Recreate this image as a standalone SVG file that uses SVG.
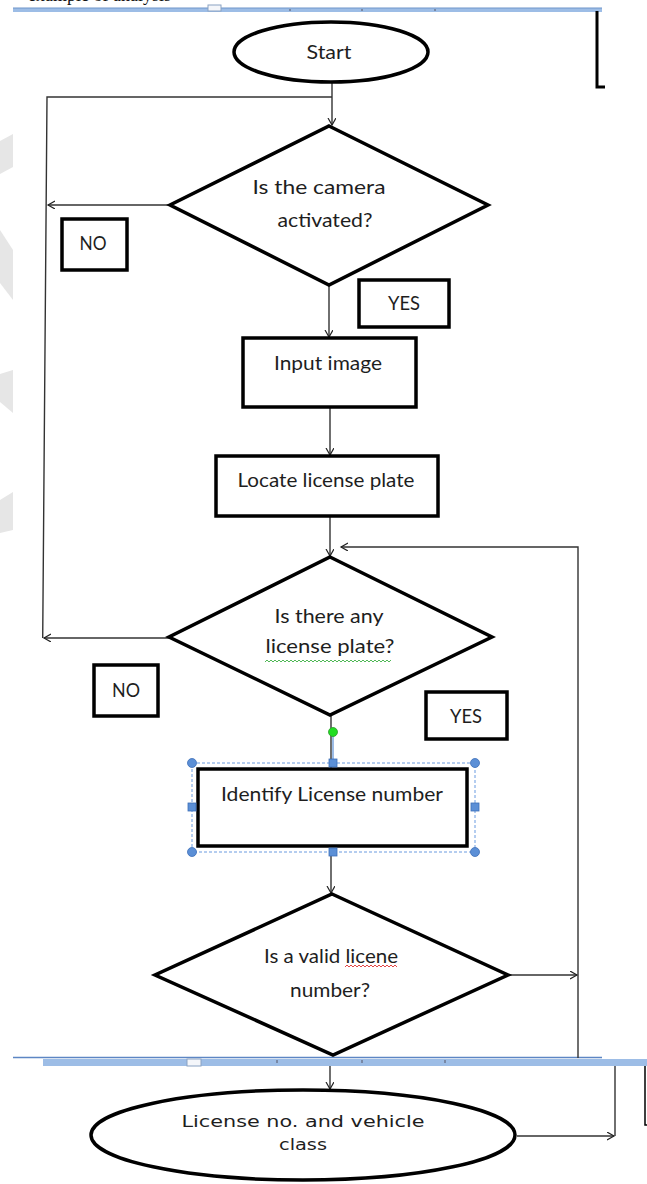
<svg xmlns="http://www.w3.org/2000/svg" width="647" height="1184" viewBox="0 0 647 1184">
  <defs>
    <marker id="arrow" markerUnits="userSpaceOnUse" markerWidth="10" markerHeight="10" refX="7" refY="4" orient="auto">
      <path d="M0,0 L7,4 L0,8" fill="none" stroke="#222" stroke-width="1.2"/>
    </marker>
    <style>
      .shape{fill:#fff;stroke:#000;stroke-width:3.5;stroke-linejoin:miter}
      .box{fill:#fff;stroke:#000;stroke-width:3.5}
      .lbl{font-family:Lato,"Liberation Sans",sans-serif;font-size:20px;fill:#1e1e1e;text-anchor:middle}
      .lbl2{font-family:"DejaVu Sans","Liberation Sans",sans-serif;font-size:15px;fill:#1e1e1e;text-anchor:middle}
      .conn{stroke:#333;stroke-width:1.4;fill:none}
      .bar{fill:#9dbde6}
      .edge{stroke:#6f95c9;stroke-width:1}
      .tick{stroke:#556;stroke-width:1}
      .wm{fill:#e6e6e6}
      .handle{fill:#5b8fd6;stroke:#3d6fb8;stroke-width:0.8}
    </style>
  </defs>

  <!-- page background -->
  <rect x="0" y="0" width="647" height="1184" fill="#fff"/>

  <!-- faint page watermark on the left margin -->
  <g id="watermark">
    <polygon class="wm" points="0,141 13,134 13,167 0,174"/>
    <polygon class="wm" points="0,230 13,250 13,300 0,283"/>
    <polygon class="wm" points="0,374 13,370 13,413 0,402"/>
    <polygon class="wm" points="0,500 13,492 13,530 0,533"/>
  </g>

  <!-- running text of the page, cut by the top edge -->
  <text x="28" y="1" font-family="'Liberation Serif',serif" font-size="18" fill="#111">example of analysis</text>

  <!-- ruler bars of the editing view -->
  <g id="ruler-top">
    <rect class="bar" x="13" y="8" width="589" height="4"/>
    <line class="edge" x1="13" y1="8" x2="602" y2="8"/>
    <rect x="208" y="5" width="13" height="6" fill="#f4f6fa" stroke="#8aa2c2" stroke-width="1"/>
    <line class="tick" x1="290" y1="9" x2="290" y2="11"/>
    <line class="tick" x1="362" y1="9" x2="362" y2="11"/>
    <line class="tick" x1="435" y1="9" x2="435" y2="11"/>
    <path d="M597,11 V87 H605" fill="none" stroke="#000" stroke-width="3"/>
  </g>
  <g id="ruler-bottom">
    <line x1="13" y1="1057.5" x2="602" y2="1057.5" stroke="#5d86c4" stroke-width="1.5"/>
    <rect class="bar" x="43" y="1059" width="604" height="7"/>
    <rect x="187" y="1059" width="14" height="7" fill="#f4f6fa" stroke="#8aa2c2" stroke-width="1"/>
    <line class="tick" x1="277" y1="1060" x2="277" y2="1063"/>
    <line class="tick" x1="362" y1="1060" x2="362" y2="1063"/>
    <line class="tick" x1="445" y1="1060" x2="445" y2="1063"/>
    <path d="M645,1066 V1125 H647" fill="none" stroke="#000" stroke-width="1.5"/>
  </g>

  <!-- connectors -->
  <g id="connectors">
    <path class="conn" d="M332,81 V125" marker-end="url(#arrow)"/>
    <path class="conn" d="M42.7,638 L47,97 H332" stroke="#555"/>
    <path class="conn" d="M170,205 H48" marker-end="url(#arrow)"/>
    <path class="conn" d="M169,638 H44" marker-end="url(#arrow)"/>
    <path class="conn" d="M329,285 V337" marker-end="url(#arrow)"/>
    <path class="conn" d="M330,408 V455" marker-end="url(#arrow)"/>
    <path class="conn" d="M330,517 V556" marker-end="url(#arrow)"/>
    <path class="conn" d="M578,1058 V547 H341" marker-end="url(#arrow)"/>
    <path class="conn" d="M331,715 V769"/>
    <path class="conn" d="M331,852 V893" marker-end="url(#arrow)"/>
    <path class="conn" d="M508,975 H577" marker-end="url(#arrow)"/>
    <path class="conn" d="M330,1066 V1089" marker-end="url(#arrow)"/>
    <path class="conn" d="M517,1136 H614" marker-end="url(#arrow)"/>
    <path class="conn" d="M615,1136 V1066"/>
  </g>

  <g id="start">
    <ellipse class="shape" cx="331" cy="52" rx="97" ry="30"/>
    <text class="lbl" x="329" y="59" textLength="45" lengthAdjust="spacingAndGlyphs">Start</text>
  </g>

  <g id="camera-check">
    <polygon class="shape" points="329,126 488,205 329,285 170,205"/>
    <text class="lbl" x="319" y="194" textLength="133" lengthAdjust="spacingAndGlyphs">Is the camera</text>
    <text class="lbl" x="325" y="227" textLength="95" lengthAdjust="spacingAndGlyphs">activated?</text>
  </g>

  <g id="no-1">
    <rect class="box" x="62" y="219" width="65" height="51"/>
    <text class="lbl" x="93" y="250" textLength="27" lengthAdjust="spacingAndGlyphs">NO</text>
  </g>

  <g id="yes-1">
    <rect class="box" x="359" y="280" width="90" height="47"/>
    <text class="lbl" x="404" y="310" textLength="32" lengthAdjust="spacingAndGlyphs">YES</text>
  </g>

  <g id="input-image">
    <rect class="box" x="243" y="338" width="173" height="69"/>
    <text class="lbl" x="328" y="370" textLength="108" lengthAdjust="spacingAndGlyphs">Input image</text>
  </g>

  <g id="locate-plate">
    <rect class="box" x="216" y="456" width="222" height="60"/>
    <text class="lbl" x="326" y="487" textLength="177" lengthAdjust="spacingAndGlyphs">Locate license plate</text>
  </g>

  <g id="plate-check">
    <polygon class="shape" points="330,557 492,637 330,715 169,637"/>
    <text class="lbl" x="329" y="623" textLength="109" lengthAdjust="spacingAndGlyphs">Is there any</text>
    <text class="lbl" x="330" y="653" textLength="129" lengthAdjust="spacingAndGlyphs">license  plate?</text>
    <path d="M265,662 l2,-2 2,2 2,-2 2,2 2,-2 2,2 2,-2 2,2 2,-2 2,2 2,-2 2,2 2,-2 2,2 2,-2 2,2 2,-2 2,2 2,-2 2,2 2,-2 2,2 2,-2 2,2 2,-2 2,2 2,-2 2,2 2,-2 2,2 2,-2 2,2 2,-2 2,2 2,-2 2,2 2,-2 2,2 2,-2 2,2 2,-2 2,2 2,-2 2,2 2,-2 2,2 2,-2 2,2 2,-2 2,2 2,-2 2,2 2,-2 2,2 2,-2 2,2 2,-2 2,2 2,-2 2,2 2,-2 2,2 2,-2" fill="none" stroke="#3cb043" stroke-width="0.9"/>
  </g>

  <g id="no-2">
    <rect class="box" x="94" y="665" width="64" height="51"/>
    <text class="lbl" x="126" y="697" textLength="28" lengthAdjust="spacingAndGlyphs">NO</text>
  </g>

  <g id="yes-2">
    <rect class="box" x="426" y="692" width="81" height="47"/>
    <text class="lbl" x="466" y="723" textLength="32" lengthAdjust="spacingAndGlyphs">YES</text>
  </g>

  <g id="identify-number">
    <rect class="box" x="198" y="769" width="269" height="77"/>
    <text class="lbl" x="332" y="801" textLength="222" lengthAdjust="spacingAndGlyphs">Identify License number</text>
    <!-- selection frame with handles -->
    <rect x="192" y="763" width="283" height="89" fill="none" stroke="#6a9be0" stroke-width="1" stroke-dasharray="3,2"/>
    <line x1="333" y1="733" x2="333" y2="763" stroke="#5b8fd6" stroke-width="1.2"/>
    <circle cx="333" cy="732" r="4.5" fill="#22dd22" stroke="#2a9a2a" stroke-width="0.8"/>
    <circle class="handle" cx="192" cy="763" r="4.5"/>
    <circle class="handle" cx="475" cy="763" r="4.5"/>
    <circle class="handle" cx="192" cy="852" r="4.5"/>
    <circle class="handle" cx="475" cy="852" r="4.5"/>
    <rect class="handle" x="329" y="759" width="8" height="8"/>
    <rect class="handle" x="329" y="848" width="8" height="8"/>
    <rect class="handle" x="188" y="803" width="8" height="8"/>
    <rect class="handle" x="471" y="803" width="8" height="8"/>
  </g>

  <g id="valid-check">
    <polygon class="shape" points="332,894 508,975 333,1055 155,975"/>
    <text class="lbl" x="331" y="963" textLength="134" lengthAdjust="spacingAndGlyphs">Is a valid licene</text>
    <text class="lbl" x="330" y="997" textLength="80" lengthAdjust="spacingAndGlyphs">number?</text>
    <path d="M345,967 l2,-2 2,2 2,-2 2,2 2,-2 2,2 2,-2 2,2 2,-2 2,2 2,-2 2,2 2,-2 2,2 2,-2 2,2 2,-2 2,2 2,-2 2,2 2,-2 2,2 2,-2 2,2 2,-2 2,2" fill="none" stroke="#e03030" stroke-width="0.9"/>
  </g>

  <g id="result">
    <ellipse class="shape" cx="303" cy="1135" rx="212" ry="45"/>
    <text class="lbl2" x="303" y="1127" textLength="243" lengthAdjust="spacingAndGlyphs">License no. and vehicle</text>
    <text class="lbl2" x="303" y="1150" textLength="48" lengthAdjust="spacingAndGlyphs">class</text>
  </g>
</svg>
